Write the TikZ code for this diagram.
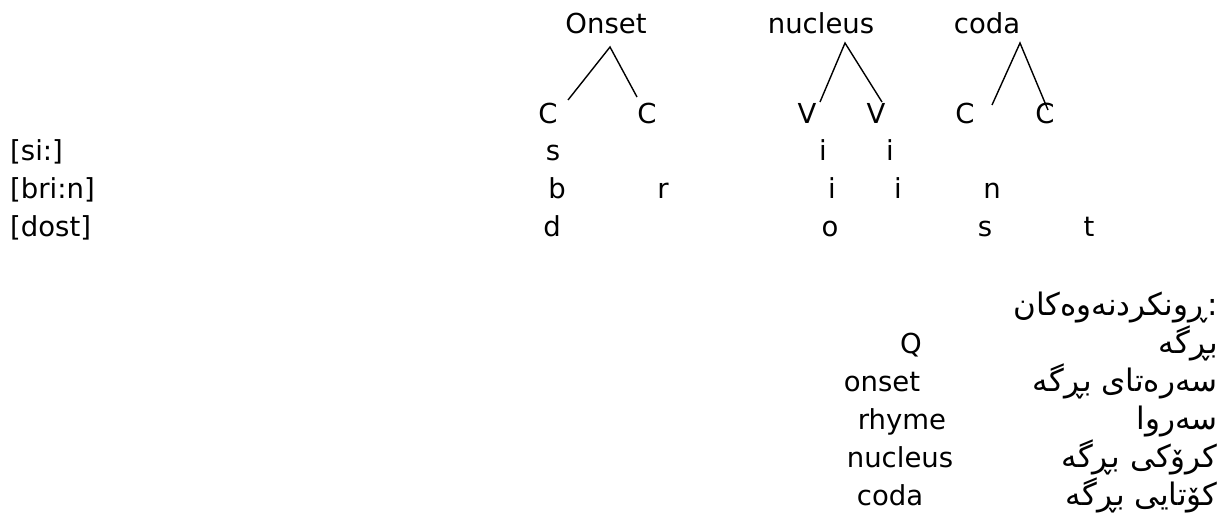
\documentclass[tikz,border=0pt]{standalone}
\usepackage{fontspec}
\setmainfont{DejaVu Sans}
\newfontfamily\kurdfont[Script=Arabic]{DejaVu Sans}
\TeXXeTstate=1
\tikzset{
  txt/.style={inner sep=0pt, font=\fontsize{27.5}{33}\selectfont},
  seg/.style={txt, anchor=base},
  word/.style={txt, anchor=base west},
  kurd/.style={inner sep=0pt, anchor=base east, font=\kurdfont\fontsize{31}{36}\selectfont},
  leg/.style={line width=1.4pt}
}
\begin{document}
\begin{tikzpicture}[x=1pt, y=-1pt]
    \useasboundingbox (0,0) rectangle (1231,517);
    % labels above the trees
    \node[seg] (onset) at (606,33) {Onset};
    \node[seg] (nucleus) at (821,33) {nucleus};
    \node[seg] (coda) at (987,33) {coda};
    \coordinate (onsetTop) at (610,47);
    \coordinate (nucTop) at (845,43);
    \coordinate (codaTop) at (1020,43);
    \coordinate (onsetL) at (568,100);
    \coordinate (onsetR) at (637,97);
    \coordinate (nucL) at (820,102);
    \coordinate (nucR) at (882,102);
    \coordinate (codaL) at (992,105);
    \coordinate (codaR) at (1048,110);
    \draw[leg] (onsetL)--(onsetTop)--(onsetR);
    \draw[leg] (nucL)--(nucTop)--(nucR);
    \draw[leg] (codaL)--(codaTop)--(codaR);
    % C V slots
    \node[seg] (c1) at (548,123) {C};
    \node[seg] (c2) at (647,123) {C};
    \node[seg] (v1) at (807,123) {V};
    \node[seg] (v2) at (876,123) {V};
    \node[seg] (c3) at (965,123) {C};
    \node[seg] (c4) at (1045,123) {C};
    % words
    \node[word] (w1) at (10,160) {[si:]};
    \node[word] (w2) at (10,198) {[bri:n]};
    \node[word] (w3) at (10,236) {[dost]};
    \node[seg] (s1) at (553,160) {s};
    \node[seg] (i1) at (823,160) {i};
    \node[seg] (i2) at (890,160) {i};
    \node[seg] (b2) at (557,198) {b};
    \node[seg] (r2) at (663,198) {r};
    \node[seg] (i3) at (832,198) {i};
    \node[seg] (i4) at (898,198) {i};
    \node[seg] (n2) at (992,198) {n};
    \node[seg] (d3) at (552,236) {d};
    \node[seg] (o3) at (830,236) {o};
    \node[seg] (s3) at (985,236) {s};
    \node[seg] (t3) at (1089,236) {t};
    % key
    \node[kurd] (keyhead) at (1218,315) {\beginR ڕونکردنەوەکان\endR:};
    \node[seg] (kq) at (911,353) {Q};
    \node[kurd] (kqk) at (1218,353) {\beginR بڕگە\endR};
    \node[seg] (kon) at (882,391) {onset};
    \node[kurd] (konk) at (1218,391) {\beginR سەرەتای بڕگە\endR};
    \node[seg] (krh) at (902,429) {rhyme};
    \node[kurd] (krhk) at (1218,429) {\beginR سەروا\endR};
    \node[seg] (knu) at (900,467) {nucleus};
    \node[kurd] (knuk) at (1218,467) {\beginR کرۆکی بڕگە\endR};
    \node[seg] (kco) at (890,505) {coda};
    \node[kurd] (kcok) at (1218,505) {\beginR کۆتایی بڕگە\endR};
\end{tikzpicture}
\end{document}
